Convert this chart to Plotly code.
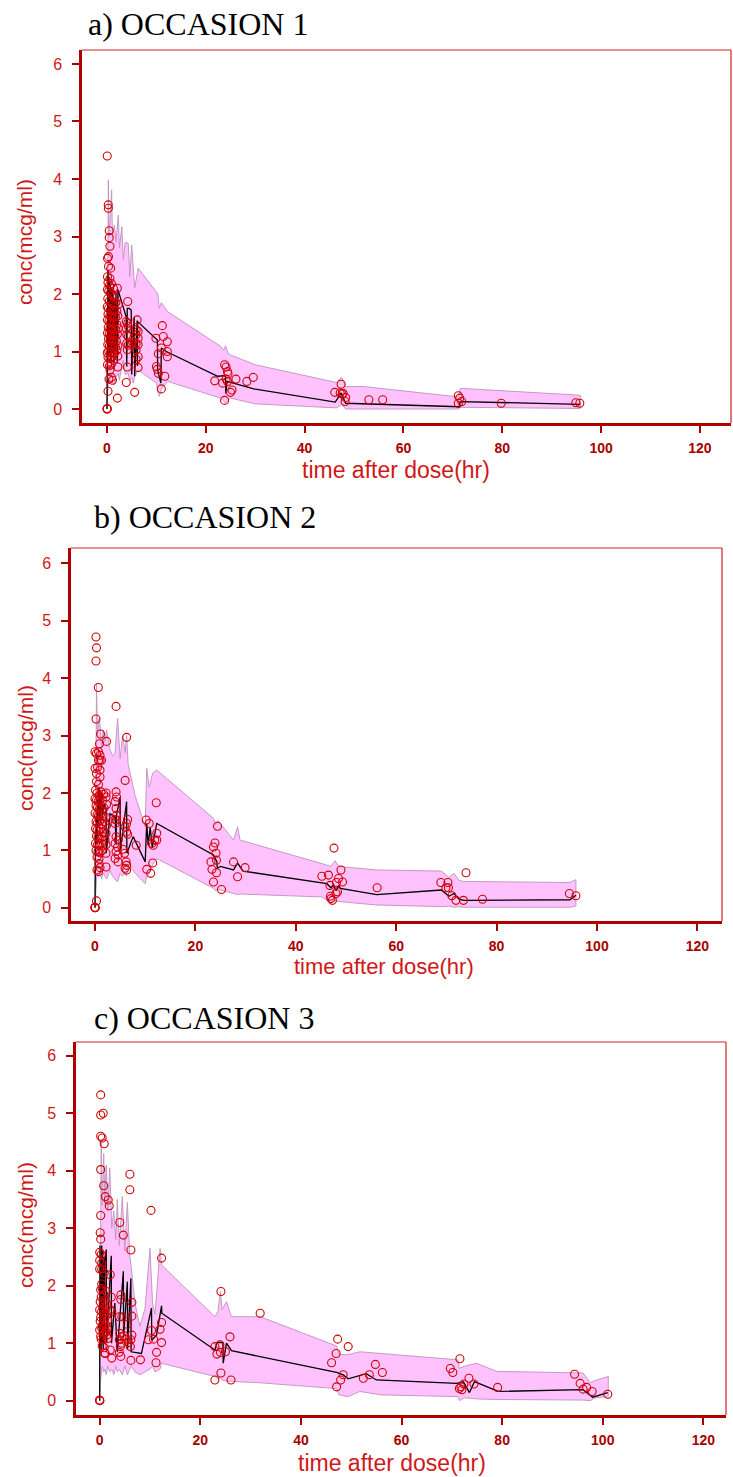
import plotly.graph_objects as go

W, H = 733, 1477

# ---------------- Panel a) OCCASION 1 ----------------
a_obs_t = [0.0, 0.05, 0.02,
           0.05, 0.25, 0.27, 0.45, 0.45, 0.6, 0.3, 0.1, 0.3, 0.75, 0.1, 0.6,
           0.2, 0.5, 0.9, 1.3, 0.1, 0.35, 0.7, 1.0, 1.5, 2.1,
           0.15, 0.5, 0.85, 1.2, 1.8, 2.3,
           0.05, 0.3, 0.65, 1.0, 1.4, 2.0,
           0.2, 0.55, 0.9, 1.25, 1.7, 2.2,
           0.1, 0.4, 0.75, 1.1, 1.5, 2.0,
           0.25, 0.6, 0.95, 1.3, 1.8, 2.3,
           0.1, 0.45, 0.8, 1.15, 1.6, 2.1,
           0.3, 0.65, 1.0, 1.4, 1.9,
           0.15, 0.5, 0.9, 1.25, 1.7, 2.2,
           0.05, 0.35, 0.7, 1.1, 1.5, 2.0,
           0.2, 0.6, 1.0, 1.3, 2.2,
           0.1, 0.5, 0.9, 2.2,
           0.6, 0.9, 1.1, 0.4, 0.2, 2.1,
           4.2, 3.9, 4.2, 4.3, 3.9, 4.0, 4.3, 4.0, 4.3, 4.1, 4.1, 3.9, 5.0, 5.2, 5.6,
           6.1, 5.9, 6.3, 5.9, 6.3, 5.9, 6.3, 5.9, 6.3, 5.9, 6.3,
           9.9, 10.0, 10.2, 10.4, 10.4, 11.2, 11.4, 11.0, 12.2, 12.2, 12.2, 11.7, 11.0,
           21.8, 23.4, 23.8, 24.1, 24.4, 24.5, 24.1, 24.4, 23.8, 25.0, 25.3, 26.1, 28.3, 29.6,
           46.1, 47.4, 47.2, 47.8, 48.3, 48.2, 47.6, 53.0, 55.8,
           71.1, 71.4, 71.1, 71.8, 79.8, 94.9, 95.7]
a_obs_c = [0.0, 0.0, 0.01,
           4.40, 3.55, 3.49, 3.10, 2.98, 2.83, 2.65, 2.62, 2.48, 2.45, 2.30, 2.27,
           2.20, 2.15, 2.18, 2.10, 2.08, 2.05, 2.02, 1.98, 1.95, 2.10,
           1.92, 1.88, 1.85, 1.82, 1.85, 1.82,
           1.78, 1.75, 1.72, 1.70, 1.72, 1.70,
           1.65, 1.62, 1.60, 1.58, 1.60, 1.62,
           1.55, 1.52, 1.50, 1.48, 1.50, 1.47,
           1.42, 1.40, 1.38, 1.40, 1.38, 1.40,
           1.32, 1.30, 1.28, 1.30, 1.27, 1.30,
           1.22, 1.20, 1.18, 1.20, 1.18,
           1.12, 1.10, 1.08, 1.10, 1.08, 1.10,
           0.98, 1.00, 0.98, 1.00, 0.97, 1.02,
           0.90, 0.88, 0.90, 0.85, 0.92,
           0.77, 0.75, 0.78, 0.73,
           0.68, 0.55, 0.50, 0.52, 0.31, 0.19,
           1.87, 1.52, 1.49, 1.44, 1.40, 1.29, 1.26, 1.14, 1.11, 1.03, 0.73, 0.46, 1.12, 1.17, 0.29,
           1.55, 1.38, 1.35, 1.29, 1.23, 1.14, 1.12, 1.03, 0.91, 0.86, 0.72,
           1.23, 0.74, 0.69, 0.62, 0.96, 1.45, 1.26, 1.06, 1.17, 1.00, 0.91, 0.57, 0.35,
           0.49, 0.45, 0.77, 0.73, 0.65, 0.61, 0.52, 0.48, 0.15, 0.29, 0.33, 0.52, 0.48, 0.55,
           0.29, 0.43, 0.28, 0.27, 0.20, 0.13, 0.26, 0.16, 0.16,
           0.23, 0.19, 0.10, 0.13, 0.10, 0.11, 0.10]
a_med_t = [0, 0.05, 0.1, 0.2, 0.3, 0.4, 0.5, 0.6, 0.8, 0.9, 1.1, 1.2, 1.4, 1.5, 1.7, 1.8,
           2.1, 2.2, 3.9, 4.0, 4.1, 4.5, 4.9, 5.0, 5.5, 5.6, 6.1, 6.15, 6.2, 10.2, 10.25,
           10.9, 11.0, 12.0, 22.4, 24.0, 24.05, 24.3, 29.7, 46.2, 47.4, 48.3, 71.3, 71.5, 95.8]
a_med_c = [0, 2.2, 0.8, 2.4, 1.0, 2.3, 0.9, 2.2, 0.8, 2.1, 1.0, 2.0, 0.8, 1.9, 1.0, 2.0,
           0.8, 2.08, 1.6, 0.74, 1.75, 1.75, 1.72, 0.6, 1.6, 0.57, 1.54, 0.75, 1.52, 1.2, 0.68,
           0.45, 1.06, 1.0, 0.57, 0.58, 0.27, 0.48, 0.35, 0.12, 0.28, 0.10, 0.04, 0.13, 0.08]
a_band_t = [0.0, 0.1, 0.27, 0.4, 0.6, 0.94, 1.1, 1.5, 1.8, 2.3, 2.5, 3.0, 3.3, 3.7, 4.3, 4.6,
            5.0, 5.3, 5.6, 6.3, 10.0, 10.3, 10.6, 11.0, 12.3, 23.0, 23.6, 24.0, 24.5, 25.0,
            30.0, 46.5, 47.5, 48.3, 52.0, 71.2, 71.5, 95.8]
a_band_hi = [0.0, 2.5, 3.98, 3.0, 3.3, 3.81, 3.0, 3.2, 2.9, 3.37, 2.8, 3.17, 2.6, 2.9, 2.88, 2.3,
             2.85, 2.42, 2.1, 2.45, 2.05, 2.0, 1.75, 1.85, 1.69, 1.09, 1.02, 1.1, 0.97, 0.94,
             0.77, 0.46, 0.55, 0.39, 0.39, 0.21, 0.36, 0.24]
a_band_lo = [0.0, 0.3, 0.55, 0.45, 0.5, 0.6, 0.45, 0.42, 0.55, 0.62, 0.5, 0.75, 0.85, 0.6, 0.62, 0.5,
             0.55, 0.45, 0.56, 0.68, 0.45, 0.3, 0.22, 0.35, 0.48, 0.19, 0.14, 0.1, 0.15, 0.19,
             0.09, 0.02, 0.08, 0.0, 0.01, 0.0, 0.03, 0.01]

# ---------------- Panel b) OCCASION 2 ----------------
b_obs_t = [0.0, 0.05, -0.03, 0.3,
           0.2, 0.3, 0.2, 0.66, 4.2, 0.2, 1.1, 2.3, 6.3, 0.9,
           0.0, 0.3, 0.7, 1.0, 0.7, 1.0, 1.3, 0.0, 0.5, 1.0, 0.3, 1.0, 6.0, 0.3, 0.7,
           0.1, 0.4, 0.8, 1.2, 1.7, 2.2,
           0.0, 0.3, 0.6, 1.0, 1.5, 2.2,
           0.2, 0.5, 0.9, 1.3, 1.8, 2.3,
           0.0, 0.4, 0.7, 1.1, 1.6, 2.1,
           0.2, 0.5, 0.9, 1.3, 1.9, 2.3,
           0.1, 0.4, 0.8, 1.2, 1.7, 2.2,
           0.3, 0.6, 1.0, 1.5, 2.0,
           0.1, 0.5, 0.9, 1.3, 2.2,
           0.2, 0.6, 1.0, 1.4, 2.2,
           0.4, 0.8, 2.2, 0.8, 0.4, 0.7, 1.0,
           4.2, 4.3, 4.0, 4.2, 4.3, 4.0, 4.3, 4.0, 4.2, 4.6, 4.0, 4.5, 4.2, 4.6, 4.0, 4.6, 5.5, 5.9,
           6.5, 6.3, 6.0, 6.3, 6.5, 6.2, 6.3, 6.0, 6.3,
           8.2, 12.2, 10.2, 10.8, 10.3, 11.1, 11.5, 11.6, 11.9, 12.3, 12.3, 11.3,
           23.6, 23.9, 24.1, 24.2, 24.4, 23.1, 23.3, 23.6, 24.2, 25.2, 27.6, 29.9, 28.4,
           45.2, 46.5, 47.6, 47.0, 47.3, 46.9, 46.8, 48.1, 49.0, 49.3, 48.5, 48.3, 48.0,
           56.2, 68.9, 70.3, 69.9, 70.4, 71.1, 71.9, 73.4, 73.9, 77.2, 94.5, 95.8]
b_obs_c = [0.0, 0.0, 0.01, 0.12,
           4.72, 4.53, 4.30, 3.84, 3.51, 3.29, 3.03, 2.90, 2.97, 2.86,
           2.72, 2.69, 2.72, 2.66, 2.57, 2.57, 2.57, 2.43, 2.45, 2.40, 2.34, 2.28, 2.22, 2.20, 2.15,
           2.05, 2.00, 1.95, 2.02, 1.98, 2.00,
           1.90, 1.88, 1.85, 1.90, 1.87, 1.93,
           1.78, 1.75, 1.72, 1.77, 1.74, 1.80,
           1.65, 1.62, 1.60, 1.63, 1.60, 1.58,
           1.50, 1.48, 1.52, 1.46, 1.50, 1.44,
           1.38, 1.35, 1.33, 1.38, 1.32, 1.30,
           1.25, 1.22, 1.20, 1.24, 1.18,
           1.12, 1.10, 1.08, 1.12, 1.10,
           1.00, 0.98, 0.96, 1.00, 0.95,
           0.88, 0.85, 0.71, 0.77, 0.66, 0.63, 0.70,
           2.02, 1.93, 1.85, 1.73, 1.61, 1.54, 1.53, 1.47, 1.24, 1.18, 1.12, 1.06, 0.98, 0.92, 0.86, 0.80, 1.02, 0.95,
           1.54, 1.47, 1.41, 1.32, 1.28, 0.80, 0.74, 0.69, 0.66,
           1.09, 1.83, 1.53, 1.47, 0.67, 0.60, 0.78, 1.09, 1.18, 1.30, 1.18, 1.12,
           1.06, 1.13, 0.95, 0.83, 1.42, 0.80, 0.67, 0.45, 0.61, 0.32, 0.80, 0.70, 0.54,
           0.55, 0.57, 1.04, 0.16, 0.13, 0.20, 0.39, 0.44, 0.66, 0.45, 0.51, 0.28, 0.25,
           0.35, 0.44, 0.44, 0.35, 0.35, 0.21, 0.13, 0.13, 0.61, 0.15, 0.25, 0.21]
b_med_t = [0, 0.05, 0.1, 0.2, 0.3, 0.4, 0.5, 0.6, 0.8, 1.0, 1.2, 1.5, 1.8, 2.2, 2.25, 3.0,
           4.0, 4.2, 4.25, 5.0, 5.05, 6.3, 6.35, 7.6, 10.0, 10.3, 10.6, 11.0, 11.4, 12.3,
           23.6, 24.3, 24.35, 25.0, 27.6, 28.4, 29.5, 46.2, 47.0, 47.5, 48.0, 48.5, 48.9,
           56.1, 69.0, 70.5, 71.5, 72.5, 73.5, 94.6, 95.8]
b_med_c = [0, 1.0, 1.3, 1.1, 1.6, 1.2, 1.9, 1.4, 2.1, 1.5, 2.0, 1.6, 1.8, 1.74, 0.95, 1.64,
           1.58, 1.1, 1.6, 1.93, 1.0, 1.85, 0.95, 1.24, 0.8, 1.47, 1.1, 1.4, 1.05, 1.47,
           0.92, 0.8, 0.69, 0.72, 0.66, 0.78, 0.64, 0.42, 0.35, 0.4, 0.3, 0.38, 0.34,
           0.23, 0.31, 0.2, 0.25, 0.15, 0.13, 0.14, 0.22]
b_band_t = [0, 0.1, 0.3, 0.5, 0.8, 1.0, 1.3, 1.6, 2.0, 2.3, 3.0, 3.5, 4.0, 4.5, 5.0, 5.5,
            6.0, 6.3, 6.6, 8.0, 10.0, 10.3, 10.8, 11.5, 12.3, 23.6, 24.0, 24.5, 27.6, 28.4,
            28.9, 45.2, 47.0, 47.8, 48.6, 56.0, 69.0, 70.5, 71.5, 72.5, 73.4, 94.6, 95.8]
b_band_hi = [0, 2.5, 3.9, 3.0, 3.3, 3.2, 2.8, 3.1, 2.9, 3.1, 2.75, 2.65, 2.7, 3.3, 2.6, 3.0,
             2.7, 3.0, 2.5, 1.95, 1.41, 2.43, 2.1, 2.35, 2.40, 1.56, 1.45, 1.52, 1.18, 1.41,
             1.18, 0.77, 0.72, 0.82, 0.72, 0.66, 0.64, 0.53, 0.6, 0.48, 0.46, 0.44, 0.49]
b_band_lo = [0, 0.2, 0.5, 0.6, 0.55, 0.65, 0.5, 0.6, 0.55, 0.5, 0.65, 0.55, 0.5, 0.45, 0.6, 0.55,
             0.6, 0.55, 0.8, 0.6, 0.42, 0.55, 0.6, 0.75, 0.86, 0.34, 0.3, 0.32, 0.25, 0.23,
             0.24, 0.19, 0.08, 0.12, 0.11, 0.05, 0.02, 0.03, 0.01, 0.02, 0.01, 0.01, 0.03]

# ---------------- Panel c) OCCASION 3 ----------------
c_obs_t = [0.0, 0.05, -0.03,
           0.2, 0.2, 0.7, 0.2, 0.5, 0.9, 0.2, 6.0, 6.0, 0.8, 1.1, 1.7, 1.9, 10.2, 0.2, 4.0, 4.7,
           0.1, 0.2, 6.2, 12.3,
           0.0, 0.3, 0.0, 0.4, 0.0, 0.4, 0.9, 2.1, 0.4, 0.2, 1.3, 2.3, 4.2, 4.2, 6.4, 0.1, 0.7,
           1.4, 0.0, 0.4, 0.9, 1.4, 2.1, 2.4, 3.9, 4.4, 6.4, 0.1, 0.7, 1.2, 0.4, 5.5, 12.3, 12.0,
           10.3, 9.7, 10.7, 11.3, 11.2, 12.3,
           0.3, 0.7, 1.4, 1.3, 0.0, 1.1,
           4.0, 4.4, 3.9, 4.4, 4.1, 3.9, 4.2, 4.8, 5.2, 5.7, 6.4, 6.2, 6.1, 1.1, 2.1, 2.4, 6.2, 8.1,
           0.5, 0.8, 0.3, 1.0, 0.6, 1.2, 0.2, 0.9, 1.6, 0.5, 0.9, 1.5, 0.7, 0.2, 1.6, 0.5, 0.9, 1.0,
           22.9, 23.3, 24.0, 25.0, 24.1, 23.9, 25.9, 22.9, 24.1, 26.1, 31.9,
           47.3, 47.0, 46.1, 49.4, 47.1, 47.9, 48.4, 52.4, 53.6, 54.8, 56.2,
           69.7, 70.2, 71.6, 71.5, 71.8, 72.0, 72.4, 73.4, 74.4, 79.1, 94.4, 95.5, 96.1, 96.8,
           97.9, 101.0]
c_obs_c = [0.0, 0.0, 0.01,
           5.32, 4.97, 5.00, 4.60, 4.57, 4.47, 4.02, 3.94, 3.67, 3.74, 3.55, 3.49, 3.39, 3.31,
           3.22, 3.10, 2.88,
           2.92, 2.81, 2.62, 2.48,
           2.58, 2.54, 2.44, 2.39, 2.29, 2.29, 2.22, 2.19, 2.03, 1.93, 1.90, 1.80, 1.84, 1.76,
           1.71, 1.72, 1.69,
           1.67, 1.58, 1.55, 1.52, 1.49, 1.58, 1.55, 1.46, 1.46, 1.47, 1.38, 1.35, 1.32, 1.26,
           1.33, 1.36, 1.24,
           1.22, 1.06, 1.07, 0.84, 0.66, 1.01,
           1.07, 1.06, 1.14, 1.20, 1.23, 1.20,
           1.17, 1.11, 1.06, 1.00, 0.94, 0.84, 0.77, 1.13, 1.07, 1.01, 1.14, 1.06, 0.94, 0.82,
           0.88, 0.74, 0.70, 0.71,
           1.95, 1.85, 1.80, 1.75, 1.62, 1.60, 1.45, 1.42, 1.40, 1.30, 1.28, 1.25, 1.15, 1.12,
           1.08, 0.95, 0.92, 0.83,
           0.94, 0.81, 0.84, 0.85, 1.90, 0.97, 1.11, 0.36, 0.48, 0.36, 1.52,
           1.07, 0.82, 0.66, 0.94, 0.24, 0.36, 0.45, 0.39, 0.45, 0.63, 0.49,
           0.56, 0.49, 0.73, 0.21, 0.24, 0.19, 0.29, 0.39, 0.29, 0.23, 0.46, 0.30, 0.20, 0.23,
           0.16, 0.11]
c_med_t = [0, 0.05, 0.3, 0.4, 0.5, 0.6, 0.7, 0.8, 0.9, 1.0, 1.3, 1.35, 2.3, 2.35, 3.0, 3.5,
           4.7, 4.75, 5.5, 5.55, 6.2, 6.25, 8.3, 10.3, 10.35, 11.3, 12.3, 12.35, 22.9, 23.3,
           24.5, 24.55, 25.2, 26.2, 47.1, 48.4, 49.4, 53.0, 55.0, 71.0, 72.3, 73.5, 74.5,
           79.2, 96.1, 98.0, 101.0]
c_med_c = [0, 2.7, 0.9, 2.7, 1.0, 2.6, 0.9, 2.5, 1.0, 2.4, 2.63, 1.0, 2.52, 1.0, 1.7, 0.85,
           2.25, 1.1, 2.07, 0.9, 2.13, 0.85, 0.82, 1.61, 1.05, 1.14, 1.65, 1.52, 0.88, 1.01,
           1.01, 0.65, 1.0, 0.87, 0.49, 0.45, 0.38, 0.47, 0.36, 0.30, 0.33, 0.14, 0.33,
           0.16, 0.19, 0.06, 0.14]
c_band_t = [0, 0.1, 0.3, 0.5, 0.8, 1.0, 1.3, 1.6, 2.0, 2.4, 2.8, 3.2, 3.5, 3.9, 4.5, 5.0,
            5.5, 6.0, 6.3, 7.0, 8.0, 9.0, 10.0, 10.5, 11.0, 12.0, 12.3, 22.9, 23.5, 24.0,
            24.3, 25.2, 26.2, 31.9, 47.1, 47.6, 49.4, 51.7, 56.0, 71.2, 71.5, 72.5, 74.9,
            78.9, 96.1, 97.5, 98.5, 101.1]
c_band_hi = [0, 3.0, 4.5, 3.4, 4.3, 3.5, 4.1, 3.3, 4.05, 3.0, 3.3, 2.8, 3.5, 2.7, 3.55, 2.6,
             3.45, 2.5, 2.3, 1.7, 1.29, 1.6, 2.65, 1.7, 1.5, 2.65, 2.36, 1.46, 1.55, 1.9,
             1.58, 1.72, 1.46, 1.46, 0.95, 0.8, 0.8, 0.85, 0.82, 0.71, 0.56, 0.6, 0.65,
             0.51, 0.48, 0.31, 0.35, 0.42]
c_band_lo = [0, 0.3, 0.45, 0.6, 0.5, 0.55, 0.45, 0.6, 0.5, 0.55, 0.45, 0.6, 0.5, 0.55, 0.45, 0.6,
             0.45, 0.55, 0.6, 0.5, 0.45, 0.5, 0.55, 0.6, 0.5, 0.55, 0.65, 0.42, 0.38, 0.4,
             0.36, 0.34, 0.33, 0.31, 0.21, 0.1, 0.07, 0.16, 0.1, 0.07, 0.0, 0.05, 0.03,
             0.02, 0.01, 0.0, 0.05, 0.07]

titles = ["a) OCCASION 1", "b) OCCASION 2", "c) OCCASION 3"]
x_ticks = [0, 20, 40, 60, 80, 100, 120]
y_ticks = [0, 1, 2, 3, 4, 5, 6]
x_label = "time after dose(hr)"
y_label = "conc(mcg/ml)"

# ---------------- layout geometry (pixels) ----------------
panels = [
    dict(obs=(a_obs_t, a_obs_c), med=(a_med_t, a_med_c), band=(a_band_t, a_band_lo, a_band_hi),
         px=(82, 731), py=(50, 423), xr=(-5.06, 126.3), yr=(-0.243, 6.243),
         tpos=(198, 24), xtpos=(396, 470), xts=23, ytpos=(25, 242)),
    dict(obs=(b_obs_t, b_obs_c), med=(b_med_t, b_med_c), band=(b_band_t, b_band_lo, b_band_hi),
         px=(71, 722), py=(548, 921), xr=(-4.78, 124.9), yr=(-0.23, 6.27),
         tpos=(205, 517), xtpos=(384, 966), xts=22, ytpos=(25, 748)),
    dict(obs=(c_obs_t, c_obs_c), med=(c_med_t, c_med_c), band=(c_band_t, c_band_lo, c_band_hi),
         px=(76, 726), py=(1042, 1415), xr=(-4.71, 124.5), yr=(-0.25, 6.24),
         tpos=(204, 1018), xtpos=(392, 1463), xts=23, ytpos=(25, 1225)),
]

RED = "#D01818"
DARKRED = "#A80000"
fig = go.Figure()
annotations = []
shapes = []
for i, p in enumerate(panels):
    k = "" if i == 0 else str(i + 1)
    xa, ya = "x" + k, "y" + k
    bt, blo, bhi = p["band"]
    fig.add_trace(go.Scatter(
        x=list(bt) + list(bt)[::-1], y=list(bhi) + list(blo)[::-1],
        fill="toself", fillcolor="#FFC2FF", mode="lines",
        line=dict(color="#C39AC3", width=1), xaxis=xa, yaxis=ya,
        showlegend=False, hoverinfo="skip"))
    fig.add_trace(go.Scatter(
        x=p["med"][0], y=p["med"][1], mode="lines",
        line=dict(color="black", width=1.3), xaxis=xa, yaxis=ya, showlegend=False))
    fig.add_trace(go.Scatter(
        x=p["obs"][0], y=p["obs"][1], mode="markers",
        marker=dict(symbol="circle-open", size=8, color="#D00000", line=dict(width=1.1)),
        xaxis=xa, yaxis=ya, showlegend=False))

    x0, x1 = p["px"][0] / W, p["px"][1] / W
    y0, y1 = 1 - p["py"][1] / H, 1 - p["py"][0] / H
    fig.layout["xaxis" + k] = dict(
        domain=[x0, x1], range=list(p["xr"]), anchor=ya,
        tickmode="array", tickvals=x_ticks, ticks="outside", ticklen=7,
        tickwidth=1.5, tickcolor=DARKRED, showline=True, linewidth=2.5,
        linecolor="#B00000", showgrid=False, zeroline=False,
        tickfont=dict(family="Liberation Sans", size=14, color=DARKRED, weight=700),
        ticklabelstandoff=3)
    fig.layout["yaxis" + k] = dict(
        domain=[y0, y1], range=list(p["yr"]), anchor=xa,
        tickmode="array", tickvals=y_ticks, ticks="outside", ticklen=7,
        tickwidth=1.5, tickcolor=DARKRED, showline=True, linewidth=2.5,
        linecolor="#B00000", showgrid=False, zeroline=False,
        tickfont=dict(family="Liberation Sans", size=16, color=RED),
        ticklabelstandoff=7)
    # thin top and right frame lines
    shapes.append(dict(type="line", xref="paper", yref="paper", x0=x0, x1=x1, y0=y1, y1=y1,
                       line=dict(color="#D42020", width=1.2)))
    shapes.append(dict(type="line", xref="paper", yref="paper", x0=x1, x1=x1, y0=y0, y1=y1,
                       line=dict(color="#D42020", width=1.2)))
    annotations.append(dict(text=titles[i], xref="paper", yref="paper",
                            x=p["tpos"][0] / W, y=1 - p["tpos"][1] / H,
                            xanchor="center", yanchor="middle", showarrow=False,
                            font=dict(family="Liberation Serif", size=32, color="black")))
    annotations.append(dict(text=x_label, xref="paper", yref="paper",
                            x=p["xtpos"][0] / W, y=1 - p["xtpos"][1] / H,
                            xanchor="center", yanchor="middle", showarrow=False,
                            font=dict(family="Liberation Sans", size=p["xts"], color=RED)))
    annotations.append(dict(text=y_label, xref="paper", yref="paper",
                            x=p["ytpos"][0] / W, y=1 - p["ytpos"][1] / H, textangle=-90,
                            xanchor="center", yanchor="middle", showarrow=False,
                            font=dict(family="Liberation Sans", size=21, color=RED)))

fig.update_layout(width=W, height=H, margin=dict(l=0, r=0, t=0, b=0),
                  paper_bgcolor="white", plot_bgcolor="white",
                  annotations=annotations, shapes=shapes)
fig.write_html("out.html")
